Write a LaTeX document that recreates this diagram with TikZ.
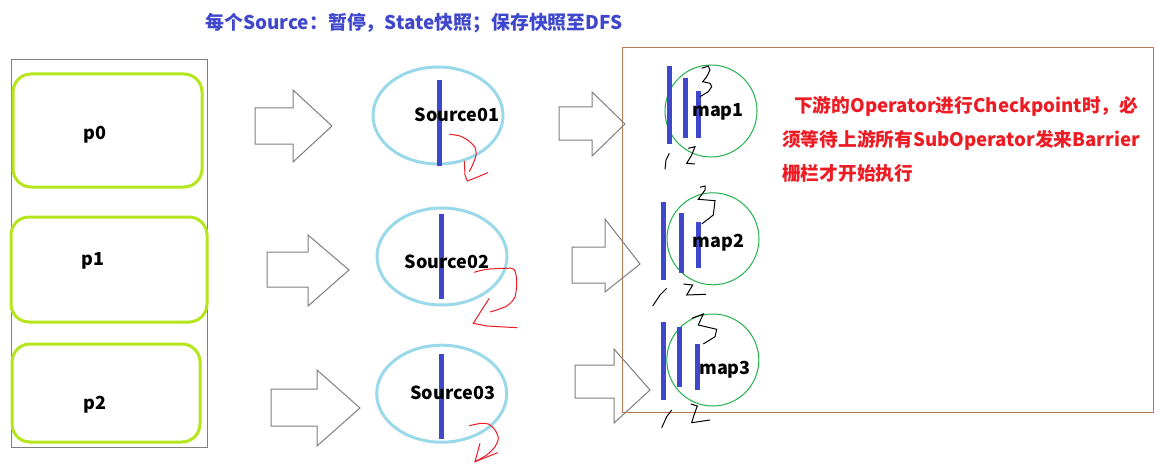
\documentclass[tikz,border=0pt]{standalone}
\usepackage{fontspec}
\setmainfont{Noto Sans CJK SC}
\usetikzlibrary{shapes.geometric}
\definecolor{titleblue}{HTML}{3F48CC}
\definecolor{barblue}{HTML}{3F48CC}
\definecolor{ellblue}{HTML}{99D9EA}
\definecolor{limegreen}{HTML}{B5E61D}
\definecolor{circgreen}{HTML}{22B14C}
\definecolor{brownbox}{HTML}{B97A57}
\definecolor{arrowgray}{HTML}{7F7F7F}
\definecolor{inkred}{HTML}{ED1C24}
\tikzset{
  lbl/.style={font=\fontsize{18}{20}\selectfont\bfseries, text=black, inner sep=0pt},
  pbox/.style={draw=limegreen, line width=3pt, rounded corners=18pt, inner sep=0pt},
  srcell/.style={draw=ellblue, line width=3pt, ellipse, inner sep=0pt},
  mapcirc/.style={draw=circgreen, line width=1pt, circle, inner sep=0pt},
  bar/.style={draw=barblue, line width=5pt},
  blockarrow/.style={draw=arrowgray, line width=1pt},
  redink/.style={draw=inkred, line width=1pt},
  blackink/.style={draw=black, line width=1pt},
}
\begin{document}
\begin{tikzpicture}[x=1pt,y=-1pt]
\useasboundingbox (0,0) rectangle (1158,476);
\fill[white] (0,0) rectangle (1158,476);

% title
\node[font=\fontsize{18.9}{20}\selectfont\bfseries, text=titleblue, inner sep=0pt] (title) at (414,23) {每个Source：暂停，State快照；保存快照至DFS};

% outer boxes
\draw[draw=arrowgray, line width=1pt] (11,60) rectangle (207,447);
\draw[draw=brownbox, line width=1pt] (622,48) rectangle (1153,412);

% partitions
\node[pbox, minimum width=189pt, minimum height=113pt] (p0) at (107.5,130.5) {};
\node[pbox, minimum width=196pt, minimum height=105pt] (p1) at (109,269.5) {};
\node[pbox, minimum width=188pt, minimum height=98pt] (p2) at (106,393) {};
\node[lbl] (p0t) at (95,135) {p0};
\node[lbl] (p1t) at (93,261) {p1};
\node[lbl] (p2t) at (95,405) {p2};

% block arrows column 1
\draw[blockarrow] (255,108) -- (293,108) -- (293,90) -- (332,126) -- (293,162) -- (293,144) -- (255,144) -- cycle;
\draw[blockarrow] (267,252) -- (308,252) -- (308,235) -- (349,270) -- (308,306) -- (308,287) -- (267,287) -- cycle;
\draw[blockarrow] (271,389) -- (317,389) -- (317,370) -- (360,408) -- (317,446) -- (317,426) -- (271,426) -- cycle;

% block arrows column 2
\draw[blockarrow] (559,107) -- (592,107) -- (592,92) -- (625,124) -- (592,156) -- (592,140) -- (559,140) -- cycle;
\draw[blockarrow] (572,247) -- (605,247) -- (605,219) -- (640,264) -- (605,292) -- (605,283) -- (572,283) -- cycle;
\draw[blockarrow] (575,365) -- (614,365) -- (614,349) -- (650,390) -- (614,423) -- (614,398) -- (575,398) -- cycle;

% sources
\node[srcell, minimum width=130pt, minimum height=97pt] (s1) at (438,115.5) {};
\node[srcell, minimum width=130pt, minimum height=97pt] (s2) at (442,256.5) {};
\node[srcell, minimum width=130pt, minimum height=97pt] (s3) at (441.7,393.7) {};
\draw[bar] (439,80) -- (439,166);
\draw[bar] (441,214) -- (441,299);
\draw[bar] (441,354) -- (441,439);
\node[lbl] (s1t) at (457,115) {Source01};
\node[lbl] (s2t) at (447,262) {Source02};
\node[lbl] (s3t) at (452.7,393) {Source03};

% red squiggles
\draw[redink] plot[smooth] coordinates {(449.3,134.3) (460,136) (468.3,140.7) (475,147.3) (476,155) (473.3,163.3) (469.3,171.7)};
\draw[redink] (464.3,161) -- (465,175) -- (467.3,181) -- (478.3,176.7) -- (487.7,172.7);
\draw[redink] plot[smooth] coordinates {(474.3,272.3) (486.7,269.3) (506.7,268.3) (514,269.3) (516.7,280) (515,296.7) (506.7,306) (490,312)};
\draw[redink] (489.3,298.3) -- (481.7,310) -- (473.3,323.3) -- (486.7,326) -- (517.3,327.7);
\draw[redink] plot[smooth] coordinates {(469.3,425.7) (480,423.5) (488.3,424) (495,430) (498.3,438.3) (495,446.7) (486.7,455) (475,461.7)};
\draw[redink] (480,443.3) -- (475,461.7) -- (497.7,452.7);

% maps
\node[mapcirc, minimum size=92pt] (m1) at (711,111) {};
\node[mapcirc, minimum size=92pt] (m2) at (713,238.8) {};
\node[mapcirc, minimum size=92pt] (m3) at (712.8,360) {};
\draw[bar] (669.3,66) -- (669.3,144);
\draw[bar] (685.7,78) -- (685.7,138);
\draw[bar] (698.7,91) -- (698.7,138);
\draw[bar] (663.3,202) -- (663.3,280);
\draw[bar] (681.3,213) -- (681.3,273);
\draw[bar] (698.3,222) -- (698.3,268);
\draw[bar] (663.3,322) -- (663.3,400);
\draw[bar] (679.3,327) -- (679.3,387);
\draw[bar] (697.3,344) -- (697.3,390);
\node[lbl] (m1t) at (718,111.7) {map1};
\node[lbl] (m2t) at (718.3,242.7) {map2};
\node[lbl] (m3t) at (725,370) {map3};

% black handwritten digits
\draw[blackink] (701.7,68.3) -- (708.3,66) -- (710,70) -- (706.7,76.7) -- (702.7,81.7) -- (710,83.3) -- (711.7,86.7) -- (708.3,91.7) -- (700,96.7);
\draw[blackink] (669.3,153.3) -- (666,160) -- (665,169.3);
\draw[blackink] (688.3,148.3) -- (695,146.7) -- (691.7,155) -- (686.7,163.3) -- (695,164);
\draw[blackink] (700,187.3) -- (705,186) -- (705,190) -- (698.3,199.3) -- (715,200.7) -- (713.3,215) -- (701.7,224);
\draw[blackink] (666.7,288.3) -- (660,295) -- (652.7,306);
\draw[blackink] (683.3,284) -- (692.7,285) -- (686.7,295) -- (706,294.3);
\draw[blackink] (691.7,318.3) -- (703.3,314) -- (698.3,325) -- (716.7,329.3) -- (715,336.7) -- (703.3,344);
\draw[blackink] (671.7,410) -- (666.7,416.7) -- (661.7,427.7);
\draw[blackink] (690.7,404) -- (697.3,406) -- (694,415) -- (691.7,422.7) -- (710,420);

% red note
\node[font=\fontsize{18.7}{34}\selectfont\bfseries, text=inkred, inner sep=0pt, anchor=north west, align=left] (note) at (782,96) {\hspace{12pt}下游的Operator进行Checkpoint时，必\\须等待上游所有SubOperator发来Barrier\\栅栏才开始执行};
\end{tikzpicture}
\end{document}
